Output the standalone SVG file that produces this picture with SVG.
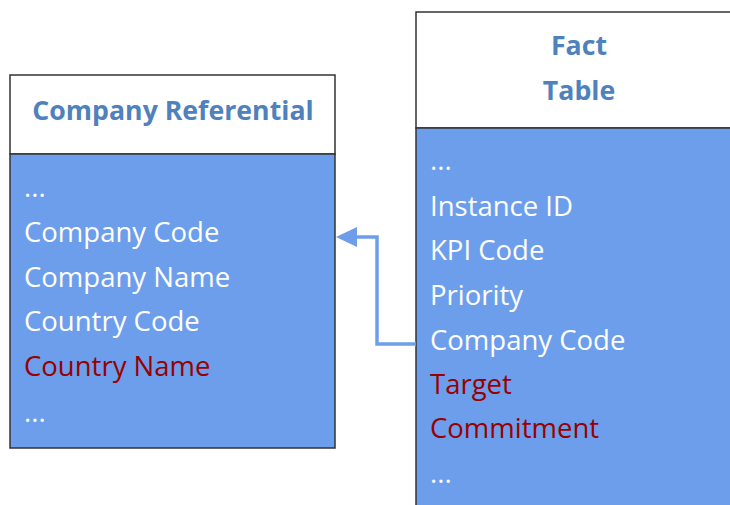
<svg xmlns="http://www.w3.org/2000/svg" width="730" height="505" viewBox="0 0 730 505">
<style>
.hdr{fill:#ffffff;stroke:#333333;stroke-width:1.5}
.body{fill:#6d9eeb;stroke:#333333;stroke-width:1.5}
.title{font-family:"Open Sans","Liberation Sans",sans-serif;font-weight:bold;font-size:26.7px;fill:#4f81bd;text-anchor:middle}
.f{font-family:"Open Sans","Liberation Sans",sans-serif;font-size:27.5px;fill:#ffffff}
.r{fill:#990000}
.conn{fill:none;stroke:#6d9eeb;stroke-width:3.5}
.head{fill:#6d9eeb}
</style>
<rect width="730" height="505" fill="#ffffff"/>
<g id="company-referential">
<rect class="hdr" x="10" y="75" width="325" height="79"/>
<rect class="body" x="10" y="154" width="325" height="294"/>
<text class="title" x="173" y="120">Company Referential</text>
<text class="f" x="24" y="197">...</text>
<text class="f" x="24" y="242">Company Code</text>
<text class="f" x="24" y="287">Company Name</text>
<text class="f" x="24" y="331">Country Code</text>
<text class="f r" x="24" y="376">Country Name</text>
<text class="f" x="24" y="422">...</text>
</g>
<g id="fact-table">
<rect class="hdr" x="416" y="12" width="320" height="116"/>
<rect class="body" x="416" y="128" width="320" height="390"/>
<text class="title" x="579" y="55">Fact</text>
<text class="title" x="579" y="100">Table</text>
<text class="f" x="430" y="170">...</text>
<text class="f" x="430" y="216">Instance ID</text>
<text class="f" x="430" y="260">KPI Code</text>
<text class="f" x="430" y="305">Priority</text>
<text class="f" x="430" y="350">Company Code</text>
<text class="f r" x="430" y="394">Target</text>
<text class="f r" x="430" y="438">Commitment</text>
<text class="f" x="430" y="483">...</text>
</g>
<g id="connectors">
<path class="conn" d="M416,344 H377 V237 H355"/>
<polygon class="head" points="336,237 357,227 357,247"/>
</g>
</svg>
